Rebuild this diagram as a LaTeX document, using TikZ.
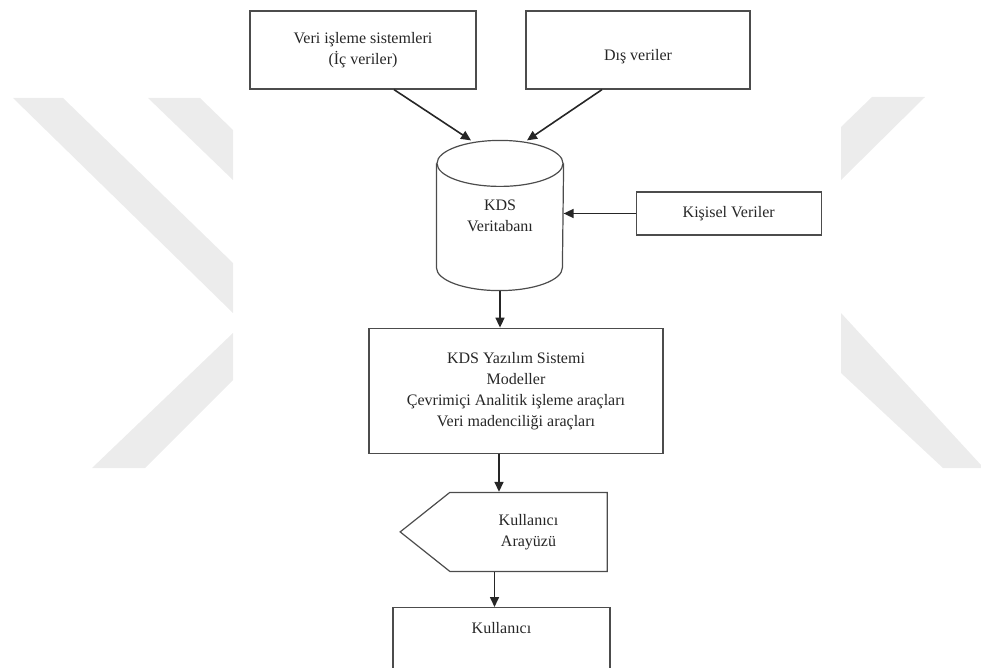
\documentclass[tikz,border=0pt]{standalone}
\usepackage{fontspec}
\setmainfont{Liberation Serif}
\usetikzlibrary{positioning,shapes.symbols,arrows.meta}

\begin{document}
\begin{tikzpicture}[
    x=1pt, y=-1pt,
    cizgi/.style={draw=black!70, line width=1.2pt},
    kutu/.style={rectangle, cizgi, align=center, text=black!85, font=\fontsize{16}{21}\selectfont, inner sep=2pt},
    ok/.style={-{Triangle[length=10pt,width=9pt]}, line width=1.6pt, black!85},
    iz/.style={fill=gray!15, draw=none}
  ]
  \useasboundingbox (0,0) rectangle (981,668);
  \fill[iz] (13,98) -- (63,98) -- (233,263) -- (233,313) -- cycle;
  \fill[iz] (148,98) -- (200,98) -- (233,130) -- (233,180) -- cycle;
  \fill[iz] (92,468) -- (145,468) -- (233,380) -- (233,333) -- cycle;
  \fill[iz] (872,97) -- (925,97) -- (841,180) -- (841,127) -- cycle;
  \fill[iz] (841,313) -- (981,465) -- (981,468) -- (943,468) -- (841,373) -- cycle;

  \node[kutu, minimum width=226pt, minimum height=78pt] (veri) at (363,50) {Veri işleme sistemleri\\(İç veriler)};
  \node[kutu, minimum width=224pt, minimum height=78pt, text height=24pt, text depth=3pt] (dis) at (638,50) {Dış veriler};
  \node[kutu, draw=none, minimum width=126pt, minimum height=149pt] (dbase) at (500,215.5) {KDS\\Veritabanı};
  \draw[cizgi] ([yshift=-23pt]dbase.north west) -- ([yshift=23pt]dbase.south west)
    arc[start angle=180, end angle=360, x radius=63pt, y radius=23pt]
    -- ([yshift=-23pt]dbase.north east);
  \draw[cizgi] ([yshift=-23pt]dbase.north) ellipse [x radius=63pt, y radius=23pt];
  \node[kutu, right=72pt of dbase, yshift=2pt, minimum width=185pt, minimum height=43pt] (kisisel) {Kişisel Veriler};
  \node[kutu, below=37pt of dbase, xshift=16pt, minimum width=294pt, minimum height=125pt] (yazilim) {KDS Yazılım Sistemi\\Modeller\\Çevrimiçi Analitik işleme araçları\\Veri madenciliği araçları};
  \node[kutu, signal, signal to=west, signal pointer angle=77, below=38pt of yazilim, xshift=12.5pt, minimum width=207pt, minimum height=79pt] (arayuz) {Kullanıcı\\Arayüzü};
  \node[kutu, below=35pt of arayuz, xshift=-27pt, minimum width=217pt, minimum height=62pt, text depth=21pt] (kullanici) {Kullanıcı};

  \draw[ok] ([xshift=31pt]veri.south) -- ([xshift=-29pt]dbase.north);
  \draw[ok] ([xshift=-36pt]dis.south) -- ([xshift=27pt]dbase.north);
  \draw[ok] (kisisel.west) -- (kisisel.west -| dbase.east);
  \draw[ok] (dbase.south) -- (dbase.south |- yazilim.north);
  \draw[ok] ([xshift=-17pt]yazilim.south) -- ([xshift=-17pt]yazilim.south |- arayuz.north);
  \draw[ok] ([xshift=-7pt]kullanici.north |- arayuz.south) -- ([xshift=-7pt]kullanici.north);
\end{tikzpicture}
\end{document}
